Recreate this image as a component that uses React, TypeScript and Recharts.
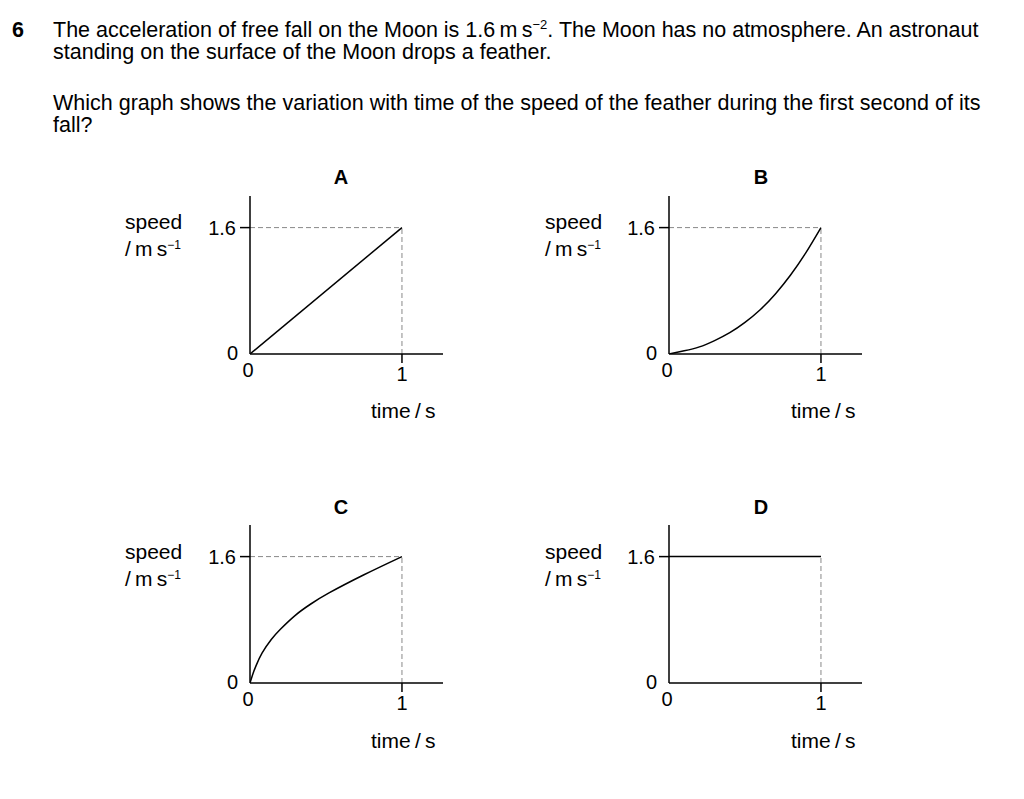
import React from 'react';
import { LineChart, Line, XAxis, YAxis, ReferenceLine } from 'recharts';

// time (s) and speed (m s^-1)
const timeA = [0, 1];
const speedA = [0, 1.6];

const timeB = [0, 0.1, 0.2, 0.3, 0.4, 0.5, 0.6, 0.7, 0.8, 0.9, 1];
const speedB = [0, 0.04, 0.09, 0.17, 0.27, 0.4, 0.56, 0.76, 1.0, 1.28, 1.6];

const timeC = [0, 0.02, 0.04, 0.08, 0.14, 0.2, 0.3, 0.4, 0.52, 0.75, 1];
const speedC = [0, 0.12, 0.22, 0.38, 0.55, 0.68, 0.86, 1.0, 1.14, 1.37, 1.6];

const timeD = [0, 1];
const speedD = [1.6, 1.6];

const xTicks = [0, 1];
const yTicks = [0, 1.6];
const xMax = 1.27;
const yMax = 2;

const FONT = '"Liberation Sans", Arial, sans-serif';

const toRows = (t: number[], v: number[]) => t.map((x, i) => ({ t: x, v: v[i] }));

function YTick(props: any) {
  const { x, y, payload } = props;
  if (payload.value === 0) {
    return (
      <text x={x - 12} y={y + 6} textAnchor="end" fontSize={20} fontFamily={FONT} fill="#000">
        0
      </text>
    );
  }
  return (
    <g>
      <line x1={x - 10} y1={y} x2={x} y2={y} stroke="#000" strokeWidth={1.5} />
      <text x={x - 14} y={y + 7} textAnchor="end" fontSize={20} fontFamily={FONT} fill="#000">
        {payload.value}
      </text>
    </g>
  );
}

function XTick(props: any) {
  const { x, y, payload } = props;
  if (payload.value === 0) {
    return (
      <text x={x - 2} y={y + 23} textAnchor="middle" fontSize={20} fontFamily={FONT} fill="#000">
        0
      </text>
    );
  }
  return (
    <g>
      <line x1={x} y1={y} x2={x} y2={y + 9} stroke="#000" strokeWidth={1.5} />
      <text x={x} y={y + 27} textAnchor="middle" fontSize={20} fontFamily={FONT} fill="#000">
        {payload.value}
      </text>
    </g>
  );
}

interface GraphProps {
  left: number;
  top: number;
  data: { t: number; v: number }[];
  curve: 'linear' | 'natural';
  topDash: boolean;
}

function Graph({ left, top, data, curve, topDash }: GraphProps) {
  return (
    <div style={{ position: 'absolute', left, top }}>
      <LineChart
        width={253}
        height={208}
        data={data}
        margin={{ top: 10, right: 10, left: 0, bottom: 0 }}
      >
        <XAxis
          dataKey="t"
          type="number"
          domain={[0, xMax]}
          ticks={xTicks}
          allowDataOverflow
          height={40}
          tickSize={0}
          tickMargin={0}
          tick={<XTick />}
          axisLine={{ stroke: '#000', strokeWidth: 1.5 }}
        />
        <YAxis
          type="number"
          domain={[0, yMax]}
          ticks={yTicks}
          allowDataOverflow
          width={50}
          tickSize={0}
          tickMargin={0}
          tick={<YTick />}
          axisLine={{ stroke: '#000', strokeWidth: 1.5 }}
        />
        {topDash && (
          <ReferenceLine
            segment={[{ x: 0, y: 1.6 }, { x: 1, y: 1.6 }]}
            stroke="#888"
            strokeWidth={1}
            strokeDasharray="5 3"
          />
        )}
        <ReferenceLine
          segment={[{ x: 1, y: 0 }, { x: 1, y: 1.6 }]}
          stroke="#888"
          strokeWidth={1}
          strokeDasharray="5 3"
        />
        <Line
          dataKey="v"
          type={curve}
          stroke="#000"
          strokeWidth={1.5}
          dot={false}
          isAnimationActive={false}
        />
      </LineChart>
    </div>
  );
}

const txt: React.CSSProperties = {
  position: 'absolute',
  fontSize: 21,
  lineHeight: '20px',
  whiteSpace: 'nowrap',
};

function Labels({ dx, dy, letter }: { dx: number; dy: number; letter: string }) {
  return (
    <>
      <div style={{ ...txt, left: 321 + dx, top: 167 + dy, width: 40, textAlign: 'center', fontWeight: 'bold', fontSize: 20 }}>
        {letter}
      </div>
      <div style={{ ...txt, left: 125 + dx, top: 212 + dy }}>speed</div>
      <div style={{ ...txt, left: 125 + dx, top: 239 + dy }}>
        /{'\u2009'}m{'\u2009'}s<sup style={{ fontSize: 12, verticalAlign: 7, lineHeight: 0 }}>−1</sup>
      </div>
      <div style={{ ...txt, left: 371 + dx, top: 401 + dy }}>
        time{'\u2009'}/{'\u2009'}s
      </div>
    </>
  );
}

const para: React.CSSProperties = {
  position: 'absolute',
  left: 53,
  fontSize: 21.5,
  lineHeight: '22px',
  whiteSpace: 'nowrap',
};

export default function App() {
  return (
    <div
      style={{
        position: 'relative',
        width: 1024,
        height: 799,
        margin: -8,
        background: '#fff',
        fontFamily: FONT,
        color: '#000',
        overflow: 'hidden',
      }}
    >
      <div style={{ ...para, left: 12, top: 18.5, fontWeight: 'bold' }}>6</div>
      <div style={{ ...para, top: 18.5 }}>
        The acceleration of free fall on the Moon is 1.6{'\u2009'}m{'\u2009'}s
        <sup style={{ fontSize: 13, verticalAlign: 8, lineHeight: 0 }}>−2</sup>. The Moon has no atmosphere. An astronaut
        <br />
        standing on the surface of the Moon drops a feather.
      </div>
      <div style={{ ...para, top: 91.5 }}>
        Which graph shows the variation with time of the speed of the feather during the first second of its
        <br />
        fall?
      </div>

      <Labels dx={0} dy={0} letter="A" />
      <Labels dx={420} dy={0} letter="B" />
      <Labels dx={0} dy={330} letter="C" />
      <Labels dx={420} dy={330} letter="D" />

      <Graph left={200} top={186} data={toRows(timeA, speedA)} curve="linear" topDash />
      <Graph left={619} top={186} data={toRows(timeB, speedB)} curve="natural" topDash />
      <Graph left={200} top={515} data={toRows(timeC, speedC)} curve="natural" topDash />
      <Graph left={619} top={515} data={toRows(timeD, speedD)} curve="linear" topDash={false} />
    </div>
  );
}
